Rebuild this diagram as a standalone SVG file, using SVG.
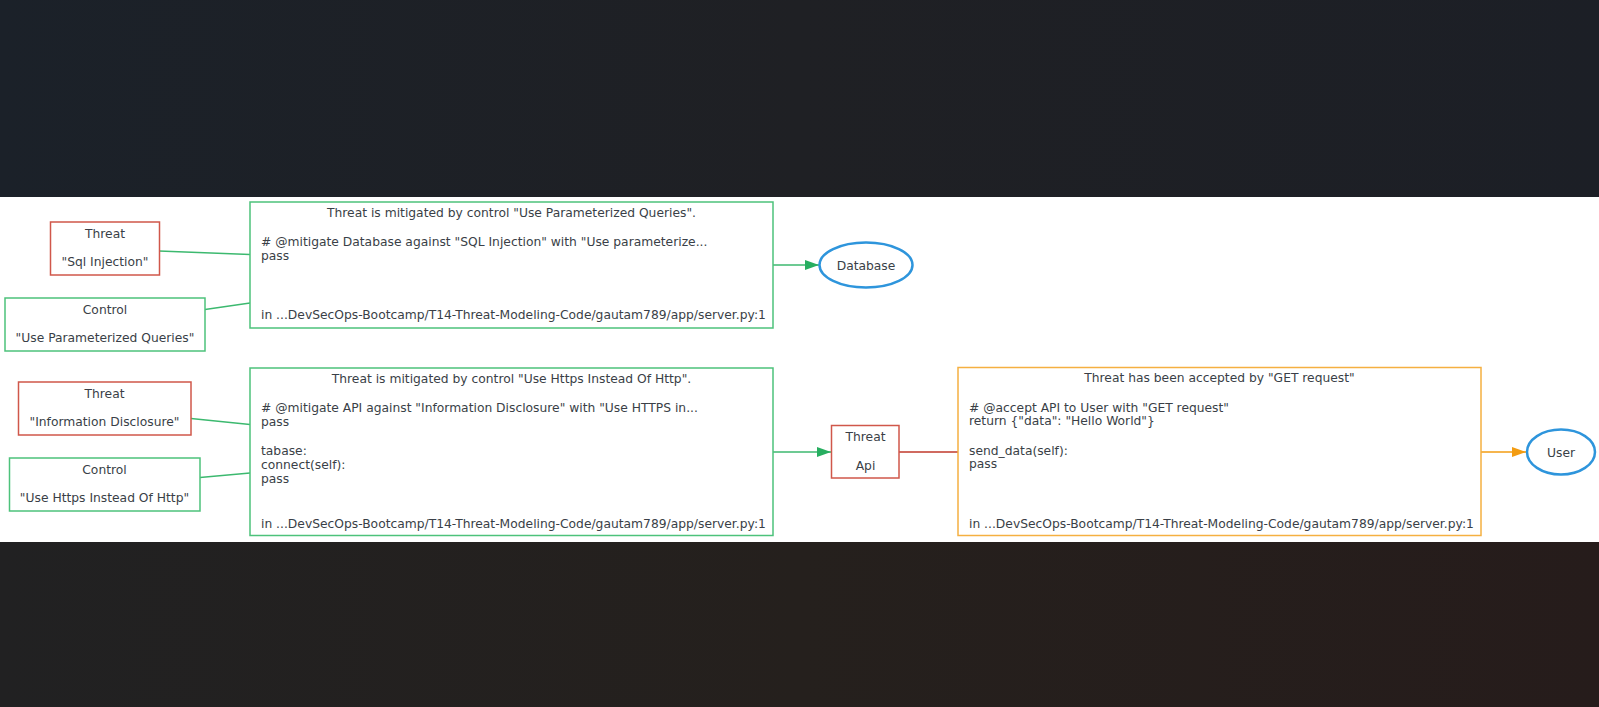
<svg xmlns="http://www.w3.org/2000/svg" width="1599" height="707" viewBox="0 0 1599 707">
<defs>
<linearGradient id="topbg" x1="0" y1="0" x2="1" y2="0">
<stop offset="0" stop-color="#1b2129"/>
<stop offset="0.5" stop-color="#1f2024"/>
<stop offset="1" stop-color="#1c1f26"/>
</linearGradient>
<linearGradient id="botbg" x1="0" y1="0" x2="1" y2="0">
<stop offset="0" stop-color="#212122"/>
<stop offset="0.5" stop-color="#25201d"/>
<stop offset="1" stop-color="#261c1b"/>
</linearGradient>
<marker id="arrG" markerWidth="14" markerHeight="10" refX="14" refY="5" orient="auto" markerUnits="userSpaceOnUse">
<path d="M0,0 L14,5 L0,10 Z" fill="#27ae60"/>
</marker>
<marker id="arrO" markerWidth="14" markerHeight="10" refX="14" refY="5" orient="auto" markerUnits="userSpaceOnUse">
<path d="M0,0 L14,5 L0,10 Z" fill="#f39c12"/>
</marker>
</defs>
<style>
text { font-family: "DejaVu Sans", "Liberation Sans", sans-serif; font-size: 12.3px; fill: #3a3f47; }
.c { text-anchor: middle; }
.threat { fill: #ffffff; stroke: #d0574a; stroke-width: 1.5; }
.control { fill: #ffffff; stroke: #4dc27b; stroke-width: 1.5; }
.mit { fill: #ffffff; stroke: #4dc27b; stroke-width: 1.5; }
.acc { fill: #ffffff; stroke: #f5b041; stroke-width: 1.5; }
.comp { fill: #ffffff; stroke: #2e95dc; stroke-width: 2.5; }
.eg { stroke: #3cb96f; stroke-width: 1.3; fill: none; }
.er { stroke: #c0392b; stroke-width: 1.3; fill: none; }
.eo { stroke: #f39c12; stroke-width: 1.3; fill: none; }
</style>
<rect x="0" y="0" width="1599" height="198" fill="url(#topbg)"/>
<rect x="0" y="197" width="1599" height="345" fill="#ffffff"/>
<rect x="0" y="542" width="1599" height="165" fill="url(#botbg)"/>

<g id="connectors">
<line class="eg" x1="159" y1="251" x2="250" y2="254.5"/>
<line class="eg" x1="205" y1="309.5" x2="250" y2="303"/>
<line class="eg" x1="773" y1="265" x2="819" y2="265" marker-end="url(#arrG)"/>
<line class="eg" x1="191" y1="418.5" x2="250" y2="424.5"/>
<line class="eg" x1="200" y1="477.5" x2="250" y2="473"/>
<line class="eg" x1="773" y1="452" x2="831" y2="452" marker-end="url(#arrG)"/>
<line class="er" x1="899" y1="452" x2="958" y2="452"/>
<line class="eo" x1="1481" y1="452" x2="1526" y2="452" marker-end="url(#arrO)"/>
</g>

<g id="threat-sql">
<rect class="threat" x="50.5" y="222" width="109" height="53"/>
<text class="c" x="105" y="237.5">Threat</text>
<text class="c" x="105" y="265.5">"Sql Injection"</text>
</g>

<g id="control-param">
<rect class="control" x="5" y="298" width="200" height="53"/>
<text class="c" x="105" y="313.5">Control</text>
<text class="c" x="105" y="342">"Use Parameterized Queries"</text>
</g>

<g id="mitigation-sql">
<rect class="mit" x="250" y="202" width="523" height="126"/>
<text class="c" x="511.5" y="216.5">Threat is mitigated by control "Use Parameterized Queries".</text>
<text x="261" y="246">&#35; @mitigate Database against "SQL Injection" with "Use parameterize...</text>
<text x="261" y="260">pass</text>
<text x="261" y="318.5">in ...DevSecOps-Bootcamp/T14-Threat-Modeling-Code/gautam789/app/server.py:1</text>
</g>

<g id="database">
<ellipse class="comp" cx="866" cy="265" rx="46.5" ry="22.5"/>
<text class="c" x="866" y="269.5">Database</text>
</g>

<g id="threat-info">
<rect class="threat" x="18.5" y="382" width="172.5" height="53"/>
<text class="c" x="104.5" y="397.5">Threat</text>
<text class="c" x="104.5" y="426">"Information Disclosure"</text>
</g>

<g id="control-https">
<rect class="control" x="9.5" y="458" width="190.5" height="53"/>
<text class="c" x="104.5" y="473.5">Control</text>
<text class="c" x="104.5" y="502">"Use Https Instead Of Http"</text>
</g>

<g id="mitigation-info">
<rect class="mit" x="250" y="368" width="523" height="167.5"/>
<text class="c" x="511.5" y="382.5">Threat is mitigated by control "Use Https Instead Of Http".</text>
<text x="261" y="411.5">&#35; @mitigate API against "Information Disclosure" with "Use HTTPS in...</text>
<text x="261" y="425.5">pass</text>
<text x="261" y="455">tabase:</text>
<text x="261" y="468.5">connect(self):</text>
<text x="261" y="482.5">pass</text>
<text x="261" y="527.5">in ...DevSecOps-Bootcamp/T14-Threat-Modeling-Code/gautam789/app/server.py:1</text>
</g>

<g id="threat-api">
<rect class="threat" x="831.5" y="425.5" width="67.5" height="52.5"/>
<text class="c" x="865.5" y="440.5">Threat</text>
<text class="c" x="865.5" y="469.5">Api</text>
</g>

<g id="acceptance">
<rect class="acc" x="958" y="367.5" width="523" height="168"/>
<text class="c" x="1219.5" y="381.5">Threat has been accepted by "GET request"</text>
<text x="969" y="411.5">&#35; @accept API to User with "GET request"</text>
<text x="969" y="424.5">return {"data": "Hello World"}</text>
<text x="969" y="454.5">send_data(self):</text>
<text x="969" y="468">pass</text>
<text x="969" y="527.5">in ...DevSecOps-Bootcamp/T14-Threat-Modeling-Code/gautam789/app/server.py:1</text>
</g>

<g id="user">
<ellipse class="comp" cx="1561" cy="452" rx="34" ry="22.5"/>
<text class="c" x="1561" y="456.5">User</text>
</g>
</svg>
